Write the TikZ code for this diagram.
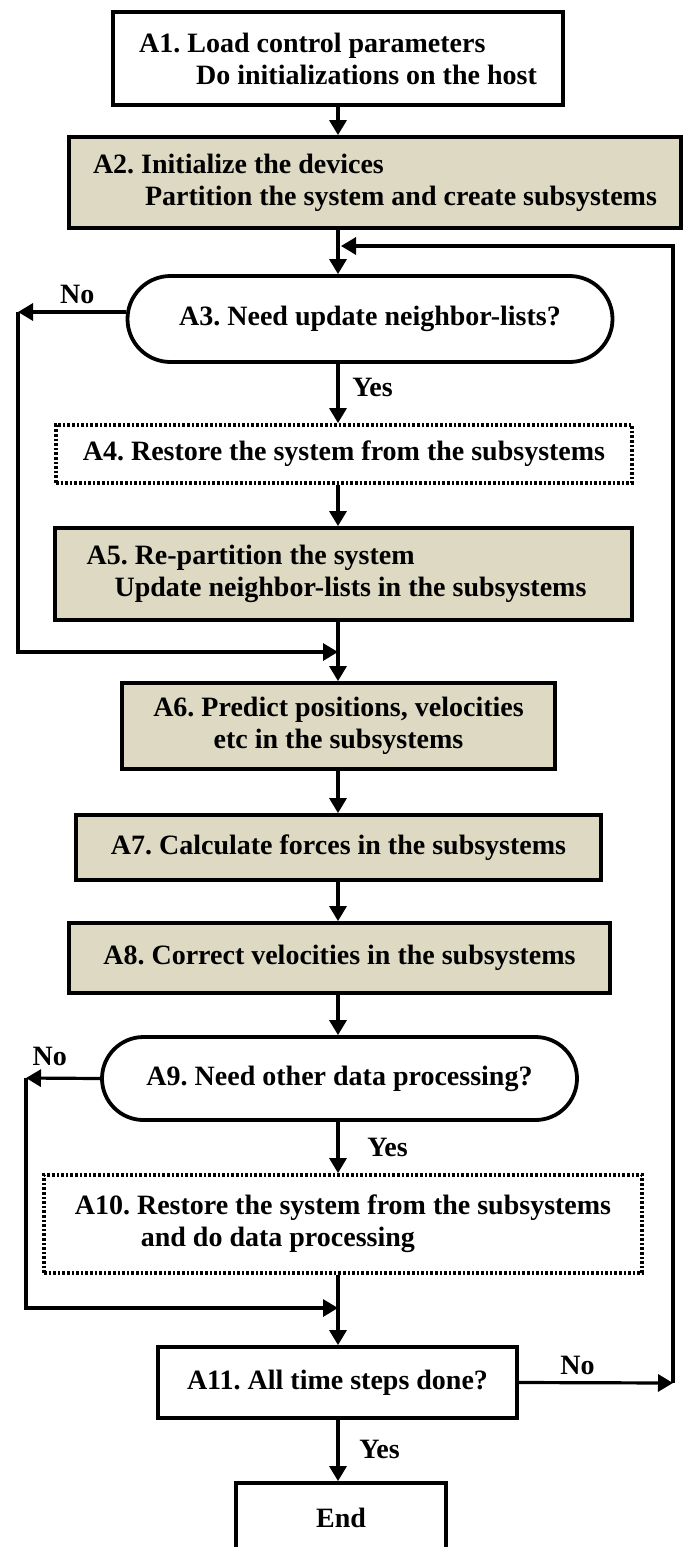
\documentclass[tikz,border=0pt]{standalone}
\usepackage{fontspec}
\setmainfont{Liberation Serif}
\usetikzlibrary{arrows.meta,shapes.misc}
\definecolor{khaki}{HTML}{DDD9C3}
\frenchspacing
\begin{document}
\begin{tikzpicture}[x=0.5pt,y=-0.5pt,
  font=\fontsize{14}{16}\selectfont\bfseries,
  box/.style={draw,line width=1.9pt,inner sep=0pt,align=left},
  shaded/.style={box,fill=khaki},
  dotbox/.style={box,dash pattern=on 1.3pt off 1pt},
  decide/.style={draw,line width=1.9pt,rounded rectangle,inner sep=0pt},
  arr/.style={line width=1.6pt,-{Triangle[length=7.5pt,width=8.5pt]}},
  ln/.style={line width=1.6pt}]
\useasboundingbox (0,0) rectangle (683,1547);
\coordinate (trunk) at (338,0);
% boxes
\node[box,minimum width=225pt,minimum height=46.5pt](a1) at (338,58.5){A1. Load control parameters\\\hspace*{28.5pt}Do initializations on the host};
\node[shaded,minimum width=306pt,minimum height=45.5pt](a2) at (375,182.5){A2. Initialize the devices\\\hspace*{26pt}Partition the system and create subsystems};
\node[decide,minimum width=242.5pt,minimum height=43pt](a3) at (370,319){A3. Need update neighbor-lists?};
\node[dotbox,minimum width=288pt,minimum height=29pt](a4) at (344,454){A4. Restore the system from the subsystems};
\node[shaded,minimum width=288.5pt,minimum height=46pt](a5) at (343.5,574){A5. Re-partition the system\\\hspace*{14pt}Update neighbor-lists in the subsystems\hspace*{7pt}};
\node[shaded,minimum width=216.5pt,minimum height=43pt,align=center](a6) at (338.5,726){A6. Predict positions, velocities\\etc in the subsystems};
\node[shaded,minimum width=262.5pt,minimum height=32.5pt](a7) at (338.5,847.5){A7. Calculate forces in the subsystems};
\node[shaded,minimum width=270.5pt,minimum height=35pt](a8) at (339.5,958){A8. Correct velocities in the subsystems};
\node[decide,minimum width=237.5pt,minimum height=41.5pt](a9) at (339.5,1078.5){A9. Need other data processing?};
\node[dotbox,minimum width=299pt,minimum height=49pt](a10) at (343,1224){A10. Restore the system from the subsystems\\\hspace*{33pt}and do data processing};
\node[box,minimum width=179.5pt,minimum height=35.5pt](a11) at (337.5,1382.5){A11. All time steps done?};
\node[box,minimum width=105pt,minimum height=35pt](end) at (341,1518){End};
% connectors
\coordinate (loop) at (341,246);
\coordinate (back) at (673,1383);
\coordinate (noa) at (18,312);
\coordinate (joina) at (338,652);
\coordinate (nob) at (26,1078);
\coordinate (joinb) at (338,1308);
\draw[arr] (a1.south) -- (trunk |- a2.north);
\draw[arr] (trunk |- a2.south) -- (trunk |- a3.north);
\draw[arr] ([yshift=3.5pt]a3.west) -- node[above,pos=0.45]{No} (noa);
\draw[arr] (noa) |- (joina);
\draw[arr] (trunk |- a3.south) -- node[right=3pt,pos=0.4]{Yes} (trunk |- a4.north);
\draw[arr] (trunk |- a4.south) -- (trunk |- a5.north);
\draw[arr] (trunk |- a5.south) -- (trunk |- a6.north);
\draw[arr] (trunk |- a6.south) -- (trunk |- a7.north);
\draw[arr] (trunk |- a7.south) -- (trunk |- a8.north);
\draw[arr] (trunk |- a8.south) -- (trunk |- a9.north);
\draw[arr] (a9.west) -- node[above=2pt,pos=0.68]{No} (nob);
\draw[arr] (nob) |- (joinb);
\draw[arr] (trunk |- a9.south) -- node[right=10.5pt,pos=0.5]{Yes} (trunk |- a10.north);
\draw[arr] (trunk |- a10.south) -- (trunk |- a11.north);
\draw[arr] (a11.east) -- node[above,pos=0.38]{No} (back);
\draw[arr] (back) |- (loop);
\draw[arr] (trunk |- a11.south) -- node[right=6.5pt,pos=0.48]{Yes} (trunk |- end.north);
\end{tikzpicture}
\end{document}
